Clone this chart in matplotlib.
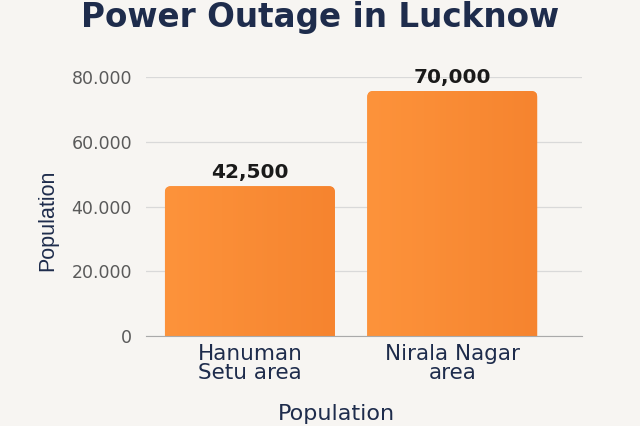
import numpy as np
import matplotlib
matplotlib.use("Agg")
import matplotlib.pyplot as plt
from matplotlib.patches import FancyBboxPatch

categories = ["Hanuman\nSetu area", "Nirala Nagar\narea"]
bar_heights = [46300, 75700]          # drawn heights as they appear
bar_labels = ["42,500", "70,000"]     # labels printed above bars
yticks = [0, 20000, 40000, 60000, 80000]
ytick_labels = ["0", "20.000", "40.000", "60.000", "80.000"]

BG = "#f7f5f2"
NAVY = "#1e2c4c"
GRID = "#d9d9d9"


def main():
    fig = plt.figure(figsize=(6.4, 4.26), dpi=100, facecolor=BG)
    ax = fig.add_axes([0.228, 0.211, 0.681, 0.608], facecolor=BG)

    # pixel -> data scale for rounded corners
    px_x = 2.154 / 436
    px_y = 80000 / 259
    width = 0.84
    radius = 6 * px_x

    grad = np.linspace(0, 1, 256).reshape(1, -1)
    cmap = matplotlib.colors.LinearSegmentedColormap.from_list(
        "bar", ["#fd933b", "#f6842f"]
    )

    for i, h in enumerate(bar_heights):
        x0 = i - width / 2
        patch = FancyBboxPatch(
            (x0, -20 * px_y), width, h + 20 * px_y,
            boxstyle=f"round,pad=0,rounding_size={radius}",
            mutation_aspect=px_y / px_x,
            facecolor="#fb8c36", edgecolor="none", zorder=2,
        )
        ax.add_patch(patch)
        im = ax.imshow(grad, cmap=cmap, aspect="auto",
                       extent=(x0, x0 + width, 0, h), zorder=3)
        im.set_clip_path(patch)
        ax.text(i, h + 1300, bar_labels[i], ha="center", va="bottom",
                fontsize=14.5, fontweight="bold", color="#1a1a1a", zorder=4)

    ax.set_aspect("auto")
    ax.set_xlim(-0.514, 1.64)
    ax.set_ylim(0, 80000)

    ax.set_yticks(yticks)
    ax.set_yticklabels(ytick_labels, fontsize=12.5, color="#5a5a5a")
    ax.set_xticks(range(len(categories)))
    ax.set_xticklabels(categories, fontsize=15.5, color=NAVY, linespacing=0.92)
    ax.tick_params(axis="y", length=0, pad=10)
    ax.tick_params(axis="x", length=0, pad=6)

    ax.grid(axis="y", color=GRID, linewidth=0.9, zorder=0)
    for side in ["top", "right", "left"]:
        ax.spines[side].set_visible(False)
    ax.spines["bottom"].set_color("#aaaaaa")
    ax.spines["bottom"].set_zorder(5)

    ax.set_ylabel("Population", fontsize=15.5, color=NAVY,
                  family=["Liberation Sans", "DejaVu Sans"])
    ax.yaxis.set_label_coords(-0.202, 0.448)
    ax.set_xlabel("Population", fontsize=16, color=NAVY)
    ax.xaxis.set_label_coords(0.438, -0.262)

    fig.text(0.5, 0.937, "Power Outage in Lucknow", ha="center", va="baseline",
             fontsize=23.5, fontweight="bold", color=NAVY)

    fig.savefig("out.png", dpi=100, facecolor=BG)
    plt.close(fig)


if __name__ == "__main__":
    main()
